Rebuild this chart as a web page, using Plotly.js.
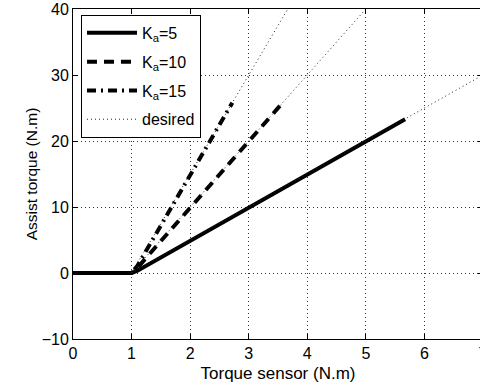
<!DOCTYPE html>
<html><head><meta charset="utf-8">
<script src="https://cdn.plot.ly/plotly-3.0.1.min.js"></script>
<style>html,body{margin:0;padding:0;overflow:hidden;background:#fff;}#chart{width:483px;height:391px;}</style>
</head><body><div id="chart"></div>
<script>
// Data
const ka5X = [0, 1, 1.1, 5.67];
const ka5Y = [0, 0, 0.35, 23.3];
const ka10X = [0, 1, 1.1, 3.6];
const ka10Y = [0, 0, 0.8, 26.0];
const ka15X = [0, 1, 1.1, 2.72];
const ka15Y = [0, 0, 1.1, 25.8];
const des5X = [1, 7];
const des5Y = [0, 30];
const des10X = [1, 5];
const des10Y = [0, 40];
const des15X = [1, 3.667];
const des15Y = [0, 40];
const xTicks = [0, 1, 2, 3, 4, 5, 6, 7];
const yTicks = [-10, 0, 10, 20, 30, 40];

const font = "'Liberation Sans', Arial, Helvetica, sans-serif";
const dotDash = "1px,3px";
const traces = [
  {x: ka5X, y: ka5Y, name: 'K<sub>a</sub>=5', legendgroup: 'a', mode: 'lines', line: {color: '#000', width: 4}},
  {x: ka10X, y: ka10Y, name: 'K<sub>a</sub>=10', legendgroup: 'b', mode: 'lines', line: {color: '#000', width: 4, dash: '10px,7px'}},
  {x: ka15X, y: ka15Y, name: 'K<sub>a</sub>=15', legendgroup: 'c', mode: 'lines', line: {color: '#000', width: 4, dash: '9px,5px,2px,5px'}},
  {x: des5X, y: des5Y, name: 'desired', mode: 'lines', legendgroup: 'd', line: {color: '#222', width: 1, dash: dotDash}},
  {x: des10X, y: des10Y, name: 'desired', mode: 'lines', legendgroup: 'd', showlegend: false, line: {color: '#222', width: 1, dash: dotDash}},
  {x: des15X, y: des15Y, name: 'desired', mode: 'lines', legendgroup: 'd', showlegend: false, line: {color: '#222', width: 1, dash: dotDash}}
];

const axisCommon = {
  showline: true, linecolor: '#000', linewidth: 1, mirror: 'ticks',
  ticks: 'inside', ticklen: 5, tickcolor: '#000',
  showgrid: true, gridcolor: '#333', gridwidth: 1, griddash: dotDash,
  zeroline: false, tickfont: {family: font, size: 16, color: '#000'},
  ticklabeloverflow: 'allow'
};

const layout = {
  width: 483, height: 391,
  margin: {l: 73, r: 0, t: 9, b: 52},
  paper_bgcolor: '#fff', plot_bgcolor: '#fff',
  font: {family: font, color: '#000'},
  showlegend: true,
  legend: {
    x: 0.0195, y: 0.982, xanchor: 'left', yanchor: 'top',
    bordercolor: '#000', borderwidth: 1, bgcolor: '#fff',
    font: {family: font, size: 16, color: '#000'},
    itemwidth: 50, tracegroupgap: 5, traceorder: 'grouped'
  },
  xaxis: Object.assign({}, axisCommon, {
    range: [0, 7], tickvals: xTicks, ticktext: xTicks.map(String),
    title: {text: 'Torque sensor (N.m)', font: {family: font, size: 17, color: '#000'}, standoff: 5}
  }),
  yaxis: Object.assign({}, axisCommon, {
    range: [-10, 40], tickvals: yTicks, ticktext: yTicks.map(v => v < 0 ? '\u2212' + Math.abs(v) : String(v)),
    title: {text: 'Assist torque (N.m)', font: {family: font, size: 15.5, color: '#000'}, standoff: 0}
  })
};

Plotly.newPlot('chart', traces, layout, {displayModeBar: false, staticPlot: true});
</script>
</body></html>
